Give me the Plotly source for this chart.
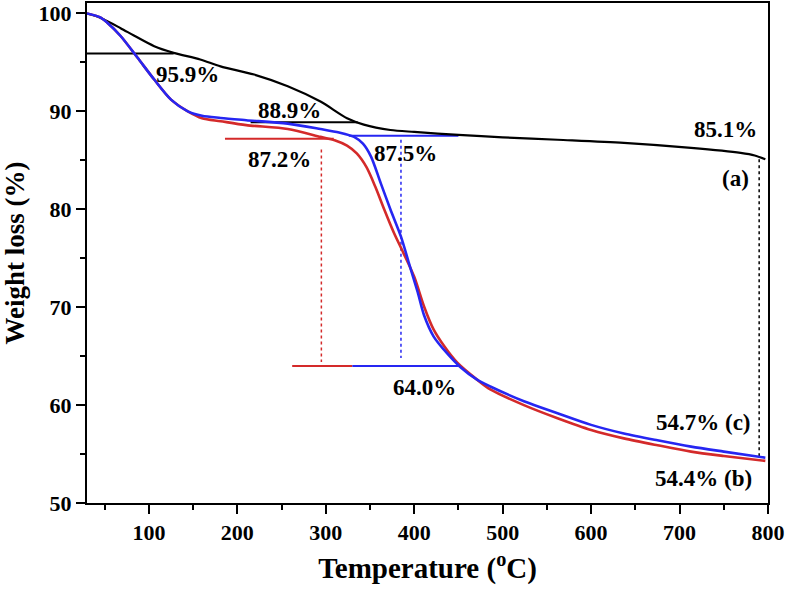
import plotly.graph_objects as go

# ---- data ----
temp_a = [30, 45, 68, 83, 106, 128, 158, 181, 219, 257, 294, 324, 343, 373, 400, 450, 500, 562, 637, 713, 769, 785, 797]
wt_a = [100, 99.56, 98.5, 97.75, 96.66, 95.98, 95.3, 94.6, 93.76, 92.57, 91.0, 89.3, 88.65, 88.1, 87.9, 87.6, 87.35, 87.1, 86.78, 86.27, 85.76, 85.5, 85.1]

temp_b = [30, 45, 53, 68, 87, 106, 125, 144, 160, 181, 210, 257, 294, 310, 324, 335, 346, 356, 366, 377, 388, 400, 411, 422, 434, 449, 471, 486, 524, 562, 600, 637, 675, 713, 750, 797]
wt_b = [100, 99.6, 99.05, 97.7, 95.5, 93.25, 91.2, 90.0, 89.3, 89.0, 88.6, 88.2, 87.4, 87.05, 86.5, 85.7, 84.3, 82.3, 80.0, 77.6, 75.5, 73.1, 70.1, 67.7, 66.0, 64.3, 62.6, 61.6, 60.0, 58.66, 57.46, 56.6, 55.9, 55.25, 54.8, 54.3]

temp_c = [30, 45, 53, 68, 87, 106, 125, 144, 160, 181, 210, 257, 294, 315, 332, 342, 351, 362, 373, 385, 394, 404, 411, 422, 437, 452, 471, 486, 524, 562, 600, 637, 675, 713, 750, 797]
wt_c = [100, 99.6, 99.05, 97.7, 95.5, 93.25, 91.2, 90.0, 89.55, 89.33, 89.1, 88.75, 88.2, 87.85, 87.4, 86.7, 85.4, 82.7, 80.0, 77.2, 74.5, 71.5, 69.2, 67.0, 65.3, 63.9, 62.6, 61.9, 60.4, 59.17, 57.98, 57.1, 56.4, 55.76, 55.25, 54.63]

# horizontal guide lines: (start T, end T, level, series)
hline_start = [30, 215, 186, 326, 262, 330]
hline_end = [128, 336, 309, 450, 330, 450]
hline_level = [95.9, 88.9, 87.2, 87.5, 64.0, 64.0]
hline_series = ["a", "a", "b", "c", "b", "c"]

# vertical dotted guides: (T, top, bottom, series)
vline_temp = [295, 385, 790]
vline_top = [86.1, 87.1, 85.1]
vline_bottom = [64.4, 64.8, 54.7]
vline_series = ["b", "c", "a"]

# text labels
label_text = ["95.9%", "88.9%", "87.2%", "87.5%", "64.0%", "85.1%", "(a)", "54.7% (c)", "54.4% (b)"]
label_temp = [144, 259, 248, 390, 412, 752, 763, 727, 727]
label_wt = [93.76, 90.1, 85.1, 85.7, 61.75, 88.1, 83.1, 58.2, 52.55]

colors = {"a": "#000000", "b": "#d42a2a", "c": "#2626f2"}

fig = go.Figure()

for x0, x1, lv, s in zip(hline_start, hline_end, hline_level, hline_series):
    fig.add_trace(go.Scatter(x=[x0, x1], y=[lv, lv], mode="lines",
                             line=dict(color=colors[s], width=2), showlegend=False, hoverinfo="skip"))

for t, y0, y1, s in zip(vline_temp, vline_top, vline_bottom, vline_series):
    fig.add_trace(go.Scatter(x=[t, t], y=[y0, y1], mode="lines",
                             line=dict(color=colors[s], width=1.5, dash="dot"), showlegend=False, hoverinfo="skip"))

fig.add_trace(go.Scatter(x=temp_a, y=wt_a, mode="lines", line=dict(color=colors["a"], width=2.2, shape="spline", smoothing=0.8), showlegend=False))
fig.add_trace(go.Scatter(x=temp_b, y=wt_b, mode="lines", line=dict(color=colors["b"], width=2.6, shape="spline", smoothing=0.8), showlegend=False))
fig.add_trace(go.Scatter(x=temp_c, y=wt_c, mode="lines", line=dict(color=colors["c"], width=2.6, shape="spline", smoothing=0.8), showlegend=False))

font_fam = "Liberation Serif"
for txt, tx, ty in zip(label_text, label_temp, label_wt):
    fig.add_annotation(x=tx, y=ty, text=txt, showarrow=False,
                       font=dict(family=font_fam, size=23, color="black", weight="bold"))

fig.update_layout(
    width=791, height=590,
    margin=dict(l=87, r=23, t=3, b=87),
    paper_bgcolor="white", plot_bgcolor="white",
    font=dict(family=font_fam, color="black"),
)

fig.update_xaxes(
    range=[30, 800], tickmode="linear", tick0=0, dtick=100, automargin=False,
    ticks="outside", ticklen=9, tickwidth=2, tickcolor="black",
    minor=dict(ticks="outside", ticklen=5, tickwidth=2, tickcolor="black", dtick=50, tick0=50),
    showline=True, linewidth=2, linecolor="black", mirror=True, showgrid=False, zeroline=False,
    tickfont=dict(family=font_fam, size=22, weight="bold"),
    title=dict(text="Temperature (<sup>o</sup>C)", font=dict(family=font_fam, size=29, weight="bold"), standoff=13),
)
fig.update_yaxes(
    range=[50, 101.07], tickmode="linear", tick0=50, dtick=10, automargin=False,
    ticks="outside", ticklen=9, tickwidth=2, tickcolor="black",
    minor=dict(ticks="outside", ticklen=5, tickwidth=2, tickcolor="black", dtick=5, tick0=55),
    showline=True, linewidth=2, linecolor="black", mirror=True, showgrid=False, zeroline=False,
    tickfont=dict(family=font_fam, size=22, weight="bold"),
    title=dict(text="Weight loss (%)", font=dict(family=font_fam, size=27, weight="bold"), standoff=7),
)

fig.write_html("out.html", config={"displayModeBar": False},
               post_script="document.body.style.margin='0';document.body.style.overflow='hidden';")
